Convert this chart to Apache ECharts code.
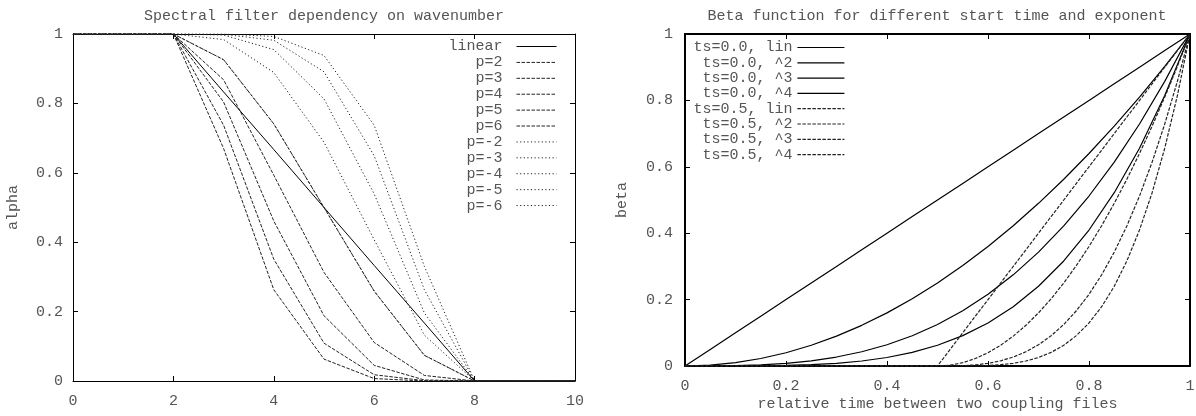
<head> </head>

<body style="margin: 0">
  <!-- two gnuplot-like panels side by side -->
  <div id="main" style="width: 1196px; height: 416px"></div>
  <script src="https://cdn.jsdelivr.net/npm/echarts@6/dist/echarts.min.js"></script>
  <script>
    // left panel: filter value at each wavenumber
    var waveX = [0, 1, 2, 3, 4, 5, 6, 7, 8, 9, 10];
    var alphaLinear = [1, 1, 1, 0.833, 0.667, 0.5, 0.333, 0.167, 0, 0, 0];
    var alphaP2 = [1, 1, 1, 0.926, 0.741, 0.5, 0.259, 0.074, 0, 0, 0];
    var alphaP3 = [1, 1, 1, 0.868, 0.593, 0.313, 0.111, 0.016, 0, 0, 0];
    var alphaP4 = [1, 1, 1, 0.804, 0.461, 0.188, 0.045, 0.003, 0, 0, 0];
    var alphaP5 = [1, 1, 1, 0.737, 0.351, 0.109, 0.018, 0.001, 0, 0, 0];
    var alphaP6 = [1, 1, 1, 0.67, 0.263, 0.063, 0.007, 0, 0, 0, 0];
    var alphaM2 = [1, 1, 1, 0.926, 0.741, 0.5, 0.259, 0.074, 0, 0, 0];
    var alphaM3 = [1, 1, 1, 0.984, 0.889, 0.688, 0.407, 0.132, 0, 0, 0];
    var alphaM4 = [1, 1, 1, 0.997, 0.955, 0.813, 0.539, 0.196, 0, 0, 0];
    var alphaM5 = [1, 1, 1, 0.999, 0.982, 0.891, 0.649, 0.263, 0, 0, 0];
    var alphaM6 = [1, 1, 1, 1, 0.993, 0.938, 0.737, 0.33, 0, 0, 0];

    // right panel: beta over relative time
    var timeX = [0, 0.05, 0.1, 0.15, 0.2, 0.25, 0.3, 0.35, 0.4, 0.45, 0.5,
      0.55, 0.6, 0.65, 0.7, 0.75, 0.8, 0.85, 0.9, 0.95, 1];
    var betaLin = [0, 0.05, 0.1, 0.15, 0.2, 0.25, 0.3, 0.35, 0.4, 0.45, 0.5,
      0.55, 0.6, 0.65, 0.7, 0.75, 0.8, 0.85, 0.9, 0.95, 1];
    var betaSq = [0, 0.0025, 0.01, 0.0225, 0.04, 0.0625, 0.09, 0.1225, 0.16, 0.2025, 0.25,
      0.3025, 0.36, 0.4225, 0.49, 0.5625, 0.64, 0.7225, 0.81, 0.9025, 1];
    var betaCube = [0, 0.0001, 0.001, 0.0034, 0.008, 0.0156, 0.027, 0.0429, 0.064, 0.0911, 0.125,
      0.1664, 0.216, 0.2746, 0.343, 0.4219, 0.512, 0.6141, 0.729, 0.8574, 1];
    var betaQuart = [0, 0, 0.0001, 0.0005, 0.0016, 0.0039, 0.0081, 0.015, 0.0256, 0.041, 0.0625,
      0.0915, 0.1296, 0.1785, 0.2401, 0.3164, 0.4096, 0.522, 0.6561, 0.8145, 1];
    var timeX05 = [0, 0.5, 0.525, 0.55, 0.575, 0.6, 0.625, 0.65, 0.675, 0.7, 0.725,
      0.75, 0.775, 0.8, 0.825, 0.85, 0.875, 0.9, 0.925, 0.95, 0.975, 1];
    var beta05Lin = [0, 0, 0.05, 0.1, 0.15, 0.2, 0.25, 0.3, 0.35, 0.4, 0.45,
      0.5, 0.55, 0.6, 0.65, 0.7, 0.75, 0.8, 0.85, 0.9, 0.95, 1];
    var beta05Sq = [0, 0, 0.0025, 0.01, 0.0225, 0.04, 0.0625, 0.09, 0.1225, 0.16, 0.2025,
      0.25, 0.3025, 0.36, 0.4225, 0.49, 0.5625, 0.64, 0.7225, 0.81, 0.9025, 1];
    var beta05Cube = [0, 0, 0.0001, 0.001, 0.0034, 0.008, 0.0156, 0.027, 0.0429, 0.064, 0.0911,
      0.125, 0.1664, 0.216, 0.2746, 0.343, 0.4219, 0.512, 0.6141, 0.729, 0.8574, 1];
    var beta05Quart = [0, 0, 0, 0.0001, 0.0005, 0.0016, 0.0039, 0.0081, 0.015, 0.0256, 0.041,
      0.0625, 0.0915, 0.1296, 0.1785, 0.2401, 0.3164, 0.4096, 0.522, 0.6561, 0.8145, 1];

    var FONT = "Liberation Mono";
    var TXT = "#555";
    var DASH = [3.5, 1.5];
    var DOT = [1.2, 2.4];

    function pairs(xs, ys) {
      return xs.map((x, i) => [x, ys[i]]);
    }

    // one side of the box: border line + inward ticks, labels only bottom/left
    function axis(grid, pos, min, max, step, width, name, gap) {
      var a = {
        gridIndex: grid,
        type: "value",
        position: pos,
        min: min,
        max: max,
        interval: step,
        axisLine: { onZero: false, lineStyle: { color: "#000", width: width } },
        axisTick: { inside: true, length: 5, lineStyle: { color: "#000", width: 1 } },
        splitLine: { show: false },
        axisLabel: {
          show: pos == "bottom" || pos == "left",
          color: TXT,
          fontFamily: FONT,
          fontSize: 15,
          margin: pos == "bottom" ? 7 : grid == 0 ? 10 : 12,
        },
      };
      if (name) {
        a.name = name;
        a.nameLocation = "middle";
        a.nameGap = gap;
        a.nameMoveOverlap = false;
        a.nameTextStyle = { color: TXT, fontFamily: FONT, fontSize: 15 };
      }
      return a;
    }

    function line(name, xs, ys, grid, type, width) {
      return {
        name: name,
        type: "line",
        xAxisIndex: grid * 2,
        yAxisIndex: grid * 2,
        data: pairs(xs, ys),
        symbol: "none",
        showSymbol: false,
        lineStyle: { color: type == "solid" ? "#000" : "#222", width: width, type: type },
      };
    }

    var leftNames = ["linear", "p=2", "p=3", "p=4", "p=5", "p=6",
      "p=-2", "p=-3", "p=-4", "p=-5", "p=-6"];
    var rightNames = ["ts=0.0, lin", "ts=0.0, ^2", "ts=0.0, ^3", "ts=0.0, ^4",
      "ts=0.5, lin", "ts=0.5, ^2", "ts=0.5, ^3", "ts=0.5, ^4"];

    var series = [
      line("linear", waveX, alphaLinear, 0, "solid", 1),
      line("p=2", waveX, alphaP2, 0, DASH, 1),
      line("p=3", waveX, alphaP3, 0, DASH, 1),
      line("p=4", waveX, alphaP4, 0, DASH, 1),
      line("p=5", waveX, alphaP5, 0, DASH, 1),
      line("p=6", waveX, alphaP6, 0, DASH, 1),
      line("p=-2", waveX, alphaM2, 0, DOT, 1),
      line("p=-3", waveX, alphaM3, 0, DOT, 1),
      line("p=-4", waveX, alphaM4, 0, DOT, 1),
      line("p=-5", waveX, alphaM5, 0, DOT, 1),
      line("p=-6", waveX, alphaM6, 0, DOT, 1),
      line("ts=0.0, lin", timeX, betaLin, 1, "solid", 1.2),
      line("ts=0.0, ^2", timeX, betaSq, 1, "solid", 1.2),
      line("ts=0.0, ^3", timeX, betaCube, 1, "solid", 1.2),
      line("ts=0.0, ^4", timeX, betaQuart, 1, "solid", 1.2),
      line("ts=0.5, lin", timeX05, beta05Lin, 1, DASH, 1.2),
      line("ts=0.5, ^2", timeX05, beta05Sq, 1, DASH, 1.2),
      line("ts=0.5, ^3", timeX05, beta05Cube, 1, DASH, 1.2),
      line("ts=0.5, ^4", timeX05, beta05Quart, 1, DASH, 1.2),
    ];

    var legendText = { color: TXT, fontFamily: FONT, fontSize: 15 };
    // no marker dot on the legend samples, only the line
    var noDot = { color: "rgba(0,0,0,0)", borderColor: "rgba(0,0,0,0)", borderWidth: 0 };

    var myChart = echarts.init(document.getElementById("main"));
    const option = {
      animation: false,
      title: [
        {
          text: "Spectral filter dependency on wavenumber",
          left: 324, top: 3, padding: 0, textAlign: "center",
          textStyle: { color: TXT, fontFamily: FONT, fontSize: 15, fontWeight: "normal" },
        },
        {
          text: "Beta function for different start time and exponent",
          left: 937, top: 3, padding: 0, textAlign: "center",
          textStyle: { color: TXT, fontFamily: FONT, fontSize: 15, fontWeight: "normal" },
        },
      ],
      grid: [
        { left: 73, top: 34, width: 502, height: 347, outerBoundsMode: "none" },
        { left: 685, top: 34, width: 505, height: 332, outerBoundsMode: "none" },
      ],
      xAxis: [
        axis(0, "bottom", 0, 10, 2, 1),
        axis(0, "top", 0, 10, 2, 1),
        axis(1, "bottom", 0, 1, 0.2, 2, "relative time between two coupling files", 25),
        axis(1, "top", 0, 1, 0.2, 2),
      ],
      yAxis: [
        axis(0, "left", 0, 1, 0.2, 1, "alpha", 46),
        axis(0, "right", 0, 1, 0.2, 1),
        axis(1, "left", 0, 1, 0.2, 2, "beta", 49),
        axis(1, "right", 0, 1, 0.2, 2),
      ],
      legend: [
        {
          data: leftNames, orient: "vertical", align: "right",
          right: 639, top: 33, padding: 0, itemGap: -11.1,
          itemWidth: 40, itemHeight: 10, selectedMode: false,
          formatter: (n) => n + " ",
          itemStyle: noDot, lineStyle: { width: 1 },
          textStyle: legendText,
        },
        {
          data: rightNames, orient: "vertical", align: "right",
          right: 351, top: 34, padding: 0, itemGap: -11.7,
          itemWidth: 47, itemHeight: 10, selectedMode: false,
          itemStyle: noDot, lineStyle: { width: 1.2 },
          textStyle: legendText,
        },
      ],
      series: series,
    };
    myChart.setOption(option);
  </script>
</body>
